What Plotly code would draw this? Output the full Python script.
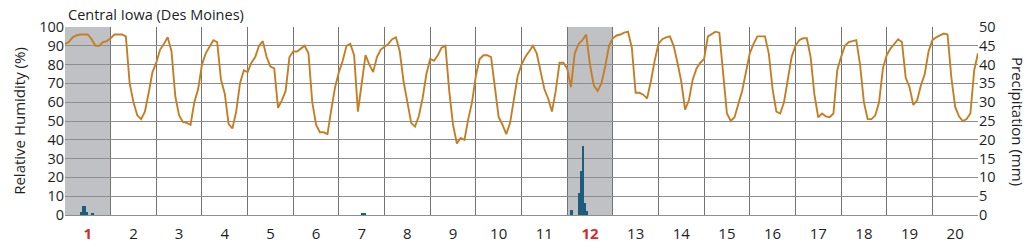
import numpy as np
import plotly.graph_objects as go

# ---------------- data ----------------
days = list(range(1, 21))
highlight_days = [1, 12]
rh_step_hours = 2

# relative humidity (%) every 2 hours, day by day (12 values per day), plus final point
rh_day01 = [91, 92, 94.5, 95.5, 96, 96, 96, 93.5, 90, 90, 92, 92.5]
rh_day02 = [94, 96, 96, 96, 95, 70, 60, 53, 51, 55, 65, 76]
rh_day03 = [81, 88, 91, 94.5, 87, 63, 53, 49.5, 49, 48, 60, 67]
rh_day04 = [80, 86, 89.5, 93, 92, 72, 64.5, 48.5, 46, 55, 70, 77]
rh_day05 = [76, 81, 84, 90, 92.5, 84, 79, 78, 57, 61, 66, 84]
rh_day06 = [87, 87, 88.5, 90, 86, 60, 48, 44, 44, 43, 56, 68]
rh_day07 = [76, 82, 90, 91, 85, 55, 70, 85, 80, 76, 84, 88]
rh_day08 = [89.5, 91, 93.5, 94.5, 87, 71, 60, 49, 47, 52.5, 62, 75]
rh_day09 = [83, 82, 85, 89, 90, 66, 48, 38, 41, 40, 51, 60]
rh_day10 = [74, 83, 85, 85, 84, 67, 52, 48, 43, 49, 62, 74]
rh_day11 = [80, 84, 87, 90, 86, 76, 67, 62, 55, 66, 81, 81]
rh_day12 = [78, 68, 86, 91, 93, 96, 80, 69, 66, 70, 79, 90]
rh_day13 = [94, 95.5, 96, 97, 97.5, 89, 65, 65, 64, 62, 71, 82]
rh_day14 = [91, 93.5, 94.5, 95, 90, 81, 71, 56, 61, 72, 78, 81]
rh_day15 = [83, 95, 96.5, 97.5, 97, 75, 54, 50, 52, 59, 66, 76]
rh_day16 = [86, 91, 95, 95, 95, 86, 67, 55, 54, 60, 72, 84]
rh_day17 = [90, 93, 94, 94, 84, 64, 52, 54, 52.5, 52, 54, 77]
rh_day18 = [84, 90, 92, 92.5, 93, 80, 60, 51, 51, 53, 60, 78]
rh_day19 = [85, 88.5, 91, 93.5, 92, 73, 68, 58.5, 61, 69, 75, 87]
rh_day20 = [93, 94.5, 95.5, 96.5, 96, 73, 57.5, 52.5, 50, 51, 54, 77]
rh_end = [86]

rh = (rh_day01 + rh_day02 + rh_day03 + rh_day04 + rh_day05 + rh_day06 + rh_day07
      + rh_day08 + rh_day09 + rh_day10 + rh_day11 + rh_day12 + rh_day13 + rh_day14
      + rh_day15 + rh_day16 + rh_day17 + rh_day18 + rh_day19 + rh_day20 + rh_end)

# hourly precipitation (mm): hour index from start of day 1
precip_hour = [8, 9, 10, 11, 14, 156, 157, 266, 270, 271, 272, 273, 274]
precip_mm = [0.9, 2.5, 2.4, 0.8, 0.3, 0.6, 0.3, 1.3, 5.9, 11.8, 18.4, 3.2, 1.0]

# y axis ticks
rh_ticks = list(range(0, 101, 10))
pr_ticks = list(range(0, 51, 5))

# ---------------- styling ----------------
LINE_C = "#c47f26"
BAR_C = "#1c5d7e"
SHADE_C = "#c0c1c5"
HGRID_C = "#8e8e8e"
VGRID_C = "#747474"
RED = "#d62b2b"
FONT = "Open Sans"
TXT = "#1e1e1e"

rh_x = np.arange(len(rh)) * rh_step_hours / 24.0
bar_x = (np.array(precip_hour) + 0.5) / 24.0

fig = go.Figure()
fig.add_trace(go.Bar(x=bar_x, y=precip_mm, yaxis="y2", width=1 / 24.0,
                     marker=dict(color=BAR_C, line=dict(width=0)), showlegend=False))
fig.add_trace(go.Scatter(x=rh_x, y=rh, mode="lines", line=dict(color=LINE_C, width=1.9),
                         showlegend=False))

for d in highlight_days:
    fig.add_shape(type="rect", xref="x", yref="paper", x0=d - 1, x1=d, y0=0, y1=1,
                  fillcolor=SHADE_C, line=dict(width=0), layer="below")

ticktext = []
for d in days:
    if d in highlight_days:
        ticktext.append(f"<b><span style='color:{RED}'>{d}</span></b>")
    else:
        ticktext.append(str(d))

fig.update_layout(
    width=1035, height=242,
    margin=dict(l=65, r=57, t=27, b=27),
    paper_bgcolor="white", plot_bgcolor="white",
    font=dict(family=FONT, size=14, color=TXT),
    bargap=0,
    xaxis=dict(range=[0, len(days)], tickvals=[d - 0.5 for d in days], ticktext=ticktext,
               showgrid=False, zeroline=False, ticks="", showline=True, linecolor=HGRID_C,
               linewidth=1, tickfont=dict(size=15), ticklabelstandoff=5, automargin=False,
               minor=dict(tickvals=list(range(0, len(days) + 1)), showgrid=True,
                          gridcolor=VGRID_C, gridwidth=1, ticks="")),
    yaxis=dict(range=[0, 100], tickvals=rh_ticks, showgrid=True, gridcolor=HGRID_C,
               gridwidth=1, zeroline=False, ticks="", tickfont=dict(size=14.5),
               automargin=False,
               title=dict(text="Relative Humidity (%)", font=dict(size=15), standoff=9)),
    yaxis2=dict(range=[0, 50], tickvals=pr_ticks, overlaying="y", side="right",
                showgrid=False, zeroline=False, ticks="", tickfont=dict(size=14.5),
                automargin=False),
)

fig.add_annotation(text="Central Iowa (Des Moines)", xref="paper", yref="paper",
                   x=0, y=1, xanchor="left", yanchor="bottom", yshift=1, xshift=1,
                   showarrow=False, font=dict(size=14.5, family=FONT, color=TXT))
fig.add_annotation(text="Precipitation (mm)", xref="paper", yref="paper",
                   x=1, y=0.5, xanchor="center", yanchor="middle", xshift=40,
                   textangle=90, showarrow=False,
                   font=dict(size=15, family=FONT, color=TXT))

fig.write_html("out.html")
